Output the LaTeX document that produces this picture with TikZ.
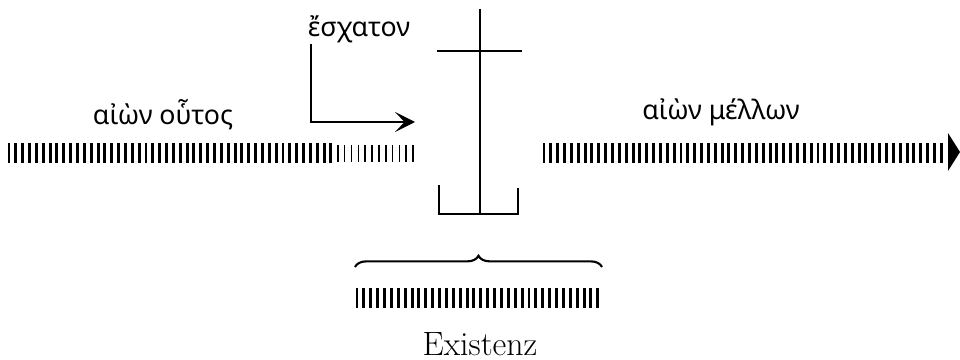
\documentclass[tikz,border=0pt]{standalone}
\usepackage{fontspec}
\newfontfamily\greekfont{Noto Sans}
\usetikzlibrary{arrows.meta,decorations.pathreplacing}

\begin{document}
\begin{tikzpicture}[x=0.025cm,y=-0.025cm,
    tick/.style={line width=2.1pt},
    thintick/.style={line width=1.2pt},
    beam/.style={line width=2.1pt},
    greek/.style={font=\greekfont\fontsize{19}{22}\selectfont},
    >={Stealth[length=5mm,width=5mm,inset=2.4mm]}]

  \useasboundingbox (0,0) rectangle (960,360);

  \def\gap{6.85}

  % this age
  \foreach \i in {0,1,...,47} {
    \draw[tick] (9+\gap*\i,143) -- ++(0,20);
  }
  \foreach \i in {48,49,...,59} {
    \draw[thintick] (9+\gap*\i,145) -- ++(0,17);
  }
  \node[greek] (houtos) at (163,115) {αἰὼν οὗτος};

  % the age to come
  \foreach \i in {0,1,...,58} {
    \draw[tick] (544+\gap*\i,143) -- ++(0,20);
  }
  \fill (948,133) -- (960,152) -- (948,171) -- cycle;
  \node[greek] (mellon) at (721,112) {αἰὼν μέλλων};

  % eschaton
  \node[greek] (eschaton) at (359,29) {ἔσχατον};
  \coordinate (lstart) at (311,44);
  \coordinate (ltip) at (415,122);
  \draw[beam,->] (lstart) |- (ltip);

  % cross
  \coordinate (ctop) at (480,9);
  \coordinate (cfoot) at (480,214);
  \draw[beam] (ctop) -- (cfoot);
  \draw[beam] (437,51) -- (522,51);
  \draw[beam] (439,185) -- (439,214) -- (518,214) -- (518,188);

  % existence
  \draw[line width=1.5pt,decorate,decoration={brace,amplitude=8pt}]
    (355,267) -- (602,267);
  \foreach \i in {0,1,...,35} {
    \draw[tick] (357+6.88*\i,288) -- ++(0,20);
  }
  \node[font=\fontsize{24}{28}\selectfont,inner sep=0pt] (existenz) at (480,344) {Existenz};

\end{tikzpicture}
\end{document}
